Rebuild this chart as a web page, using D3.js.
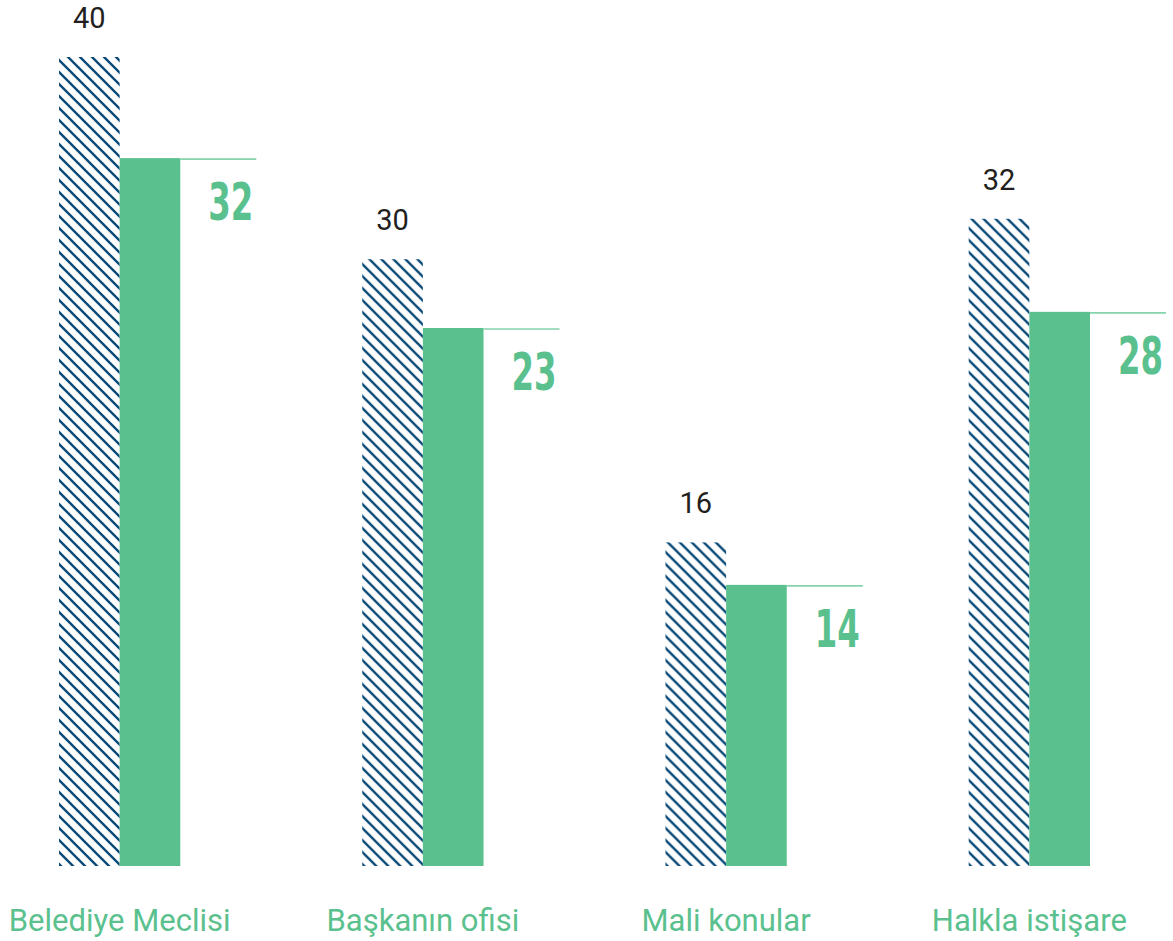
<!DOCTYPE html>
<html>
<head>
<meta charset="utf-8">
<script src="https://cdn.jsdelivr.net/npm/d3@7"></script>
<style>
  body { margin: 0; background: #fff; }
  svg { display: block; }
</style>
</head>
<body>
<svg id="chart"></svg>
<script>
// categories and values
const categories = ["Belediye Meclisi", "Başkanın ofisi", "Mali konular", "Halkla istişare"];
const hatchedValues = [40, 30, 16, 32];
// green bar heights as drawn (in the same units as the hatched bars)
const greenValues = [35, 26.6, 13.9, 27.4];
const greenLabels = ["32", "23", "14", "28"];

const width = 1173;
const height = 941;
const baseline = 866;

const svg = d3.select("#chart")
    .attr("width", width)
    .attr("height", height);

// hatch pattern for the first series
const defs = svg.append("defs");
const pat = defs.append("pattern")
    .attr("id", "hatch")
    .attr("patternUnits", "userSpaceOnUse")
    .attr("width", 12)
    .attr("height", 12);
pat.append("path")
    .attr("d", "M-3,9 L3,15 M0,0 L12,12 M9,-3 L15,3")
    .attr("stroke", "#0b4a78")
    .attr("stroke-width", 2.4)
    .attr("fill", "none");

const x = d3.scaleBand()
    .domain(categories)
    .range([59, 1090])
    .paddingInner(0.6)
    .paddingOuter(0);

const inner = d3.scaleBand()
    .domain(["hatched", "green"])
    .range([0, x.bandwidth()]);

const y = d3.scaleLinear()
    .domain([0, 40])
    .range([baseline, 57]);

const green = "#5ac18e";

const groups = svg.append("g")
  .selectAll("g")
  .data(categories)
  .join("g")
    .attr("transform", d => `translate(${x(d)},0)`);

// hatched bars
groups.append("rect")
    .attr("x", inner("hatched"))
    .attr("y", (d, i) => y(hatchedValues[i]))
    .attr("width", inner.bandwidth())
    .attr("height", (d, i) => y(0) - y(hatchedValues[i]))
    .attr("fill", "url(#hatch)");

// hatched values
groups.append("text")
    .attr("x", inner("hatched") + inner.bandwidth() / 2)
    .attr("y", (d, i) => y(hatchedValues[i]) - 29)
    .attr("text-anchor", "middle")
    .attr("font-family", "Roboto, sans-serif")
    .attr("font-size", 29)
    .attr("fill", "#231f20")
    .text((d, i) => hatchedValues[i]);

// green bars
groups.append("rect")
    .attr("x", inner("green"))
    .attr("y", (d, i) => y(greenValues[i]))
    .attr("width", inner.bandwidth())
    .attr("height", (d, i) => y(0) - y(greenValues[i]))
    .attr("fill", green);

// thin marker line to the right of each green bar
const lineLen = 76;
groups.append("line")
    .attr("x1", inner("green") + inner.bandwidth())
    .attr("x2", inner("green") + inner.bandwidth() + lineLen)
    .attr("y1", (d, i) => y(greenValues[i]) + 1)
    .attr("y2", (d, i) => y(greenValues[i]) + 1)
    .attr("stroke", "#86d3ac")
    .attr("stroke-width", 1.6);

// green big labels (condensed look)
groups.append("text")
    .attr("x", inner("green") + inner.bandwidth() + lineLen - 3)
    .attr("y", (d, i) => y(greenValues[i]) + 62)
    .attr("text-anchor", "end")
    .attr("font-family", "'DejaVu Sans Condensed', Roboto, sans-serif")
    .attr("font-weight", "bold")
    .attr("font-size", 51)
    .attr("textLength", 45)
    .attr("lengthAdjust", "spacingAndGlyphs")
    .attr("fill", green)
    .text((d, i) => greenLabels[i]);

// category labels
groups.append("text")
    .attr("x", x.bandwidth() / 2)
    .attr("y", 931)
    .attr("text-anchor", "middle")
    .attr("font-family", "Roboto, sans-serif")
    .attr("font-size", 31)
    .attr("fill", green)
    .text(d => d);
</script>
</body>
</html>
